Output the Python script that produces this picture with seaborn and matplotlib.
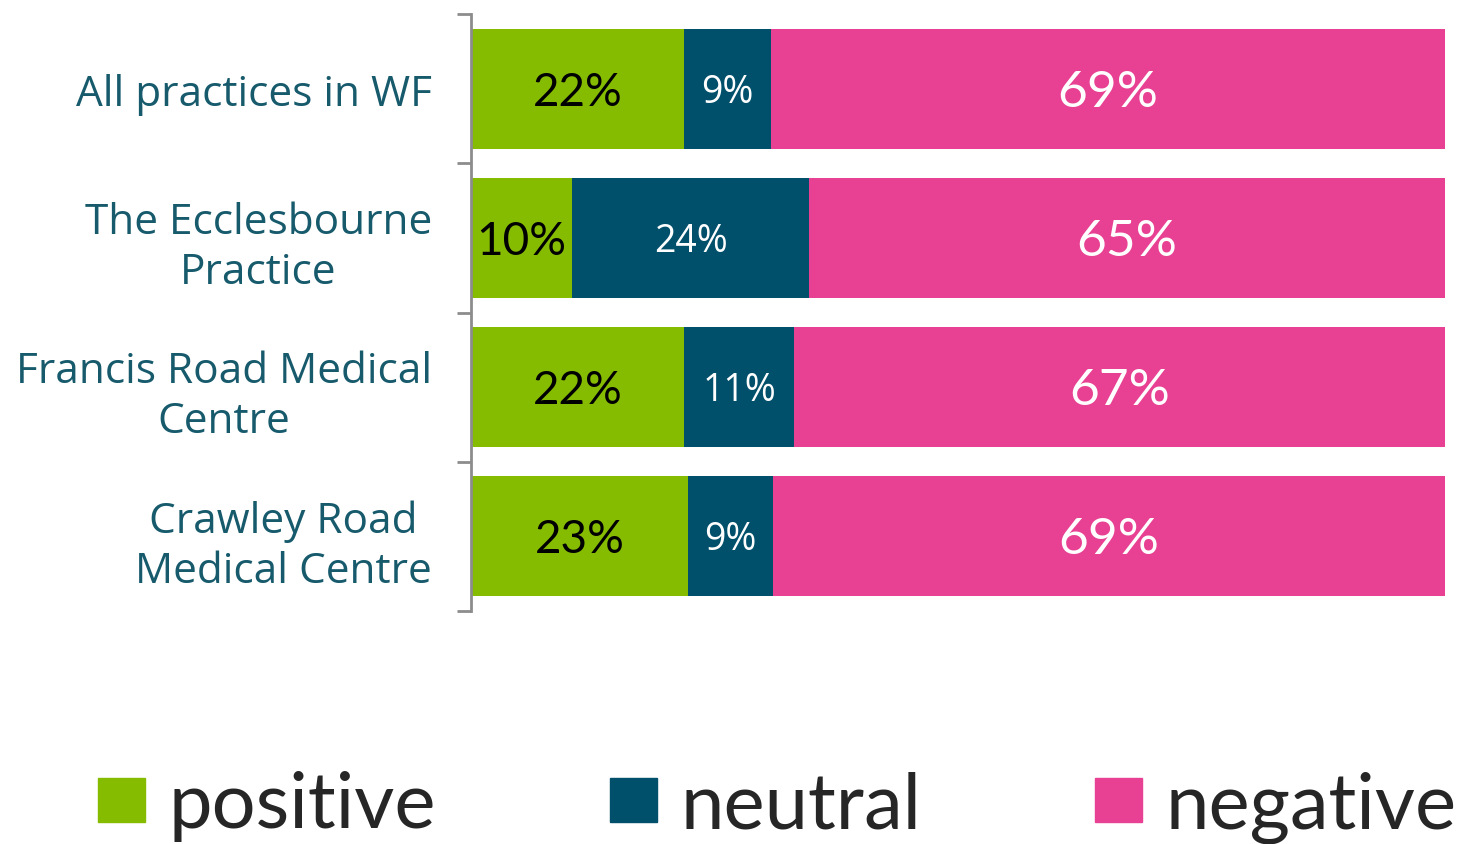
import numpy as np
import pandas as pd
import matplotlib
matplotlib.use('Agg')
import matplotlib.pyplot as plt
from matplotlib.patches import Patch
import seaborn as sns

# Data
practices = ['All practices in WF', 'The Ecclesbourne\nPractice',
             'Francis Road Medical\nCentre', 'Crawley Road\nMedical Centre']
positive = [21.9, 10.4, 21.9, 22.3]
neutral = [8.9, 24.3, 11.3, 8.7]
negative = [69.2, 65.3, 66.8, 69.0]
pos_labels = ['22%', '10%', '22%', '23%']
neu_labels = ['9%', '24%', '11%', '9%']
neg_labels = ['69%', '65%', '67%', '69%']

GREEN = '#86BC00'
NAVY = '#004F6B'
PINK = '#E84193'
LABEL_COLOR = '#165A6C'

sns.set_style('white')
plt.rcParams['font.family'] = ['Open Sans', 'DejaVu Sans']

df = pd.DataFrame({'practice': practices, 'positive': positive,
                   'neutral': neutral, 'negative': negative})
df['cum_neu'] = df['positive'] + df['neutral']
df['cum_neg'] = df['cum_neu'] + df['negative']

fig = plt.figure(figsize=(14.64, 8.45), dpi=100)
ax = fig.add_axes([0.3217, 0.2757, 0.987 - 0.3217, 0.9822 - 0.2757])

# stacked bars: draw the cumulative totals from back to front
sns.barplot(data=df, y='practice', x='cum_neg', color=PINK, width=0.805,
            orient='h', ax=ax, saturation=1, linewidth=0)
sns.barplot(data=df, y='practice', x='cum_neu', color=NAVY, width=0.805,
            orient='h', ax=ax, saturation=1, linewidth=0)
sns.barplot(data=df, y='practice', x='positive', color=GREEN, width=0.805,
            orient='h', ax=ax, saturation=1, linewidth=0)

# labels in the middle of each segment
for i in range(len(df)):
    ax.text(df['positive'][i] / 2, i + 0.02, pos_labels[i], ha='center', va='center',
            fontsize=33, color='black', family=['Lato', 'DejaVu Sans'])
    ax.text(df['positive'][i] + df['neutral'][i] / 2, i + 0.02, neu_labels[i],
            ha='center', va='center', fontsize=27, color='white')
    ax.text(df['cum_neu'][i] + df['negative'][i] / 2, i + 0.02, neg_labels[i],
            ha='center', va='center', fontsize=37, color='white',
            family=['Lato', 'DejaVu Sans'])

ax.set_xlim(0, 100)
ax.set_ylim(3.5, -0.5)
ax.set_xlabel('')
ax.set_ylabel('')
ax.set_xticks([])

# tick marks sit between the categories, labels centred on the bars
ax.set_yticks(np.arange(-0.5, 4, 1))
ax.set_yticklabels([])
ax.set_yticks(range(len(practices)), minor=True)
ax.set_yticklabels(practices, minor=True, fontsize=30.5, color=LABEL_COLOR,
                   linespacing=1.25)
for lbl in ax.get_yticklabels(minor=True):
    lbl.set_multialignment('center')
ax.tick_params(axis='y', which='major', length=10, width=2, color='#8C8C8C',
               direction='out', left=True)
ax.tick_params(axis='y', which='minor', length=0, pad=28)

for side in ['top', 'right', 'bottom']:
    ax.spines[side].set_visible(False)
ax.spines['left'].set_color('#8C8C8C')
ax.spines['left'].set_linewidth(2)

handles = [Patch(color=GREEN, label='positive'),
           Patch(color=NAVY, label='neutral'),
           Patch(color=PINK, label='negative')]
fig.legend(handles=handles, loc='lower left', bbox_to_anchor=(0.03, -0.063),
           ncol=3, frameon=False, handlelength=0.6, handleheight=0.5,
           handletextpad=0.3, columnspacing=2.24, borderpad=0.2,
           prop={'family': ['Lato', 'DejaVu Sans'], 'size': 56})

fig.savefig('out.png', dpi=100)
